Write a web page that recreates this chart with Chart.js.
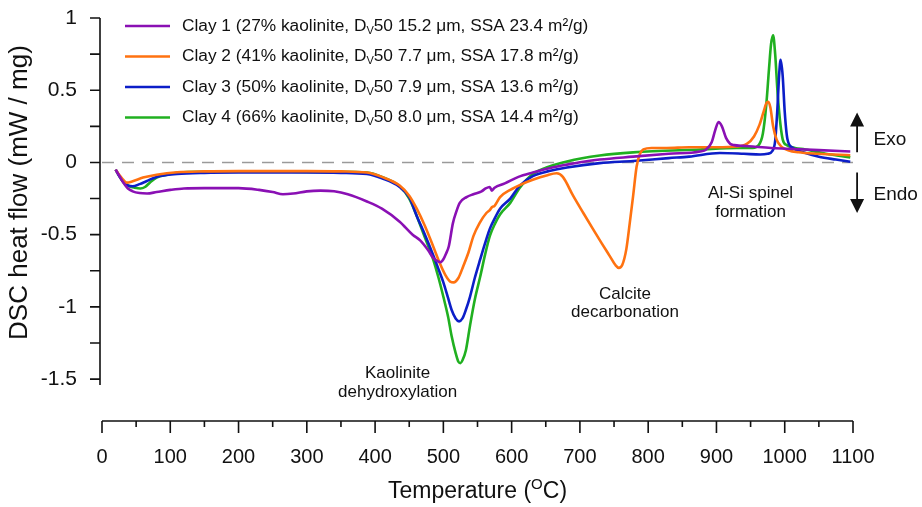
<!DOCTYPE html>
<html>
<head>
<meta charset="utf-8">
<script src="https://cdn.jsdelivr.net/npm/chart.js@4.4.1/dist/chart.umd.min.js"></script>
<style>
  html, body { margin: 0; padding: 0; background: #fff; }
</style>
</head>
<body>
<canvas id="chart" width="922" height="507"></canvas>
<script>
const FONT = "'Liberation Sans', Arial, sans-serif";

// Clay 1 (purple)
const clay1Temp = [20, 25, 30, 38, 45, 55, 66, 80, 100, 120, 150, 200, 230, 250, 265, 280, 300, 320, 340, 360, 388, 410, 436, 455, 466, 478, 485, 492, 496, 500, 504, 508, 514, 519, 524, 534, 544, 556, 562, 568, 571, 575, 590, 610, 631, 655, 681, 705, 729, 778, 830, 876, 885, 893, 898, 903, 908, 914, 920, 926, 940, 953, 980, 1003, 1050, 1096];
const clay1Flow = [-0.05, -0.09, -0.13, -0.18, -0.2, -0.212, -0.215, -0.205, -0.19, -0.18, -0.178, -0.178, -0.19, -0.205, -0.22, -0.215, -0.2, -0.195, -0.2, -0.22, -0.27, -0.32, -0.41, -0.5, -0.54, -0.61, -0.66, -0.685, -0.69, -0.67, -0.63, -0.58, -0.42, -0.34, -0.28, -0.24, -0.22, -0.2, -0.18, -0.17, -0.195, -0.175, -0.145, -0.1, -0.07, -0.04, -0.015, 0.005, 0.02, 0.04, 0.06, 0.076, 0.09, 0.14, 0.22, 0.28, 0.25, 0.17, 0.13, 0.12, 0.115, 0.11, 0.1, 0.095, 0.085, 0.076];

// Clay 2 (orange)
const clay2Temp = [20, 26, 32, 36, 45, 60, 80, 110, 150, 200, 250, 300, 350, 388, 410, 436, 450, 461, 473, 485, 495, 503, 510, 515, 522, 529, 537, 544, 553, 563, 568, 571, 575, 583, 598, 615, 631, 651, 666, 675, 690, 705, 719, 732, 744, 752, 757, 762, 768, 773, 778, 783, 788, 793, 805, 827, 860, 900, 930, 945, 955, 963, 969, 973, 976, 979, 983, 988, 995, 1005, 1020, 1050, 1096];
const clay2Flow = [-0.05, -0.09, -0.125, -0.14, -0.13, -0.105, -0.085, -0.068, -0.062, -0.06, -0.06, -0.06, -0.062, -0.07, -0.1, -0.16, -0.23, -0.32, -0.44, -0.58, -0.7, -0.78, -0.825, -0.83, -0.8, -0.72, -0.62, -0.51, -0.42, -0.35, -0.33, -0.31, -0.3, -0.24, -0.19, -0.15, -0.12, -0.09, -0.075, -0.1, -0.23, -0.35, -0.46, -0.56, -0.65, -0.71, -0.73, -0.71, -0.6, -0.42, -0.23, -0.03, 0.06, 0.09, 0.1, 0.1, 0.105, 0.105, 0.11, 0.13, 0.18, 0.26, 0.35, 0.41, 0.42, 0.38, 0.25, 0.16, 0.11, 0.085, 0.07, 0.06, 0.05];

// Clay 3 (blue)
const clay3Temp = [20, 26, 32, 38, 45, 55, 65, 80, 110, 150, 200, 250, 300, 350, 388, 410, 436, 450, 461, 473, 485, 493, 500, 507, 512, 518, 523, 528, 533, 539, 546, 554, 561, 568, 576, 583, 598, 612, 631, 655, 681, 729, 778, 830, 860, 905, 940, 964, 975, 982, 986, 989, 992, 994, 997, 1000, 1004, 1012, 1027, 1050, 1075, 1096];
const clay3Flow = [-0.05, -0.1, -0.14, -0.16, -0.165, -0.15, -0.13, -0.1, -0.08, -0.072, -0.07, -0.07, -0.07, -0.072, -0.08, -0.11, -0.17, -0.24, -0.37, -0.5, -0.64, -0.74, -0.83, -0.94, -1.02, -1.08, -1.1, -1.08, -1.02, -0.93, -0.8, -0.67, -0.56, -0.46, -0.38, -0.32, -0.25, -0.16, -0.095, -0.06, -0.035, -0.005, 0.01, 0.03, 0.04, 0.065, 0.06, 0.055, 0.06, 0.08, 0.15, 0.35, 0.62, 0.71, 0.6, 0.35, 0.16, 0.1, 0.07, 0.04, 0.02, 0.005];

// Clay 4 (green)
const clay4Temp = [20, 26, 32, 40, 48, 56, 63, 70, 80, 95, 114, 150, 200, 250, 300, 350, 388, 410, 436, 450, 461, 473, 485, 493, 500, 507, 512, 518, 522, 525, 528, 533, 539, 546, 554, 561, 568, 576, 583, 598, 612, 631, 651, 681, 729, 778, 876, 930, 953, 962, 968, 973, 977, 980, 983, 986, 990, 997, 1003, 1015, 1030, 1060, 1096];
const clay4Flow = [-0.05, -0.1, -0.14, -0.165, -0.175, -0.18, -0.17, -0.14, -0.105, -0.085, -0.07, -0.065, -0.063, -0.063, -0.065, -0.065, -0.07, -0.1, -0.165, -0.25, -0.37, -0.52, -0.67, -0.8, -0.93, -1.07, -1.2, -1.32, -1.38, -1.39, -1.37, -1.3, -1.13, -0.95, -0.79, -0.64, -0.51, -0.42, -0.36, -0.28, -0.175, -0.08, -0.035, 0.007, 0.048, 0.07, 0.09, 0.1, 0.1, 0.12, 0.2, 0.4, 0.65, 0.82, 0.88, 0.75, 0.45, 0.16, 0.12, 0.1, 0.09, 0.06, 0.035];

const seriesLabels = [
    'Clay 1 (27% kaolinite, D_V50 15.2 μm, SSA 23.4 m²/g)',
    'Clay 2 (41% kaolinite, D_V50 7.7 μm, SSA 17.8 m²/g)',
    'Clay 3 (50% kaolinite, D_V50 7.9 μm, SSA 13.6 m²/g)',
    'Clay 4 (66% kaolinite, D_V50 8.0 μm, SSA 14.4 m²/g)'
];
const seriesColors = ['#8a10b4', '#ff7210', '#0c1ec8', '#20b020'];

const xTicks = [0, 100, 200, 300, 400, 500, 600, 700, 800, 900, 1000, 1100];
const yTicks = [-1.5, -1, -0.5, 0, 0.5, 1];

// annotation texts, placed in data coordinates
const noteText = ['Kaolinite', 'dehydroxylation', 'Calcite', 'decarbonation', 'Al-Si spinel', 'formation'];
const noteTemp = [433, 433, 766, 766, 950, 950];
const noteFlow = [-1.458, -1.59, -0.91, -1.036, -0.217, -0.342];

function toPoints(temps, flows) {
    return temps.map((t, i) => ({ x: t, y: flows[i] }));
}

function drawLabel(ctx, text, x, y, size) {
    // "_V" marks a subscript V
    var parts = text.split('_V');
    ctx.font = `${size}px ${FONT}`;
    ctx.fillText(parts[0], x, y);
    x += ctx.measureText(parts[0]).width;
    ctx.font = `${Math.round(size * 0.65)}px ${FONT}`;
    ctx.fillText('V', x, y + size * 0.28);
    x += ctx.measureText('V').width;
    ctx.font = `${size}px ${FONT}`;
    ctx.fillText(parts[1], x, y);
}

const dscPlugin = {
    id: 'dscExtras',
    beforeDatasetsDraw(chart) {
        const ctx = chart.ctx, xs = chart.scales.x, ys = chart.scales.y;
        ctx.save();
        ctx.strokeStyle = '#9a9a9a';
        ctx.lineWidth = 1.6;
        ctx.setLineDash([12, 8]);
        ctx.beginPath();
        ctx.moveTo(xs.getPixelForValue(0), ys.getPixelForValue(0));
        ctx.lineTo(xs.getPixelForValue(1100), ys.getPixelForValue(0));
        ctx.stroke();
        ctx.restore();
    },
    afterDraw(chart) {
        const ctx = chart.ctx, xs = chart.scales.x, ys = chart.scales.y;
        const area = chart.chartArea;
        ctx.save();
        ctx.strokeStyle = '#111';
        ctx.fillStyle = '#111';
        ctx.lineWidth = 1.6;

        // y axis (stops just under -1.5)
        var ax = area.left - 2;
        ctx.beginPath();
        ctx.moveTo(ax, ys.getPixelForValue(1));
        ctx.lineTo(ax, ys.getPixelForValue(-1.54));
        for (var v = -1.5; v <= 1.0001; v += 0.25) {
            var py = ys.getPixelForValue(v);
            ctx.moveTo(ax - 10, py);
            ctx.lineTo(ax, py);
        }
        ctx.stroke();

        // x axis, detached at the bottom
        var by = area.bottom;
        ctx.beginPath();
        ctx.moveTo(xs.getPixelForValue(0), by);
        ctx.lineTo(xs.getPixelForValue(1100), by);
        for (var t = 0; t <= 1100; t += 50) {
            var px = xs.getPixelForValue(t);
            ctx.moveTo(px, by);
            ctx.lineTo(px, by + (t % 100 === 0 ? 12 : 6));
        }
        ctx.stroke();

        // axis titles
        ctx.textBaseline = 'middle';
        ctx.textAlign = 'center';
        ctx.save();
        ctx.translate(20, (ys.getPixelForValue(1) + ys.getPixelForValue(-1.5)) / 2 - 6);
        ctx.rotate(-Math.PI / 2);
        ctx.font = `26px ${FONT}`;
        ctx.fillText('DSC heat flow (mW / mg)', 0, 0);
        ctx.restore();

        ctx.font = `23px ${FONT}`;
        var pre = 'Temperature (', sup = 'O', post = 'C)';
        var w1 = ctx.measureText(pre).width, w3 = ctx.measureText(post).width;
        ctx.font = `15px ${FONT}`;
        var w2 = ctx.measureText(sup).width;
        var tx = (xs.getPixelForValue(0) + xs.getPixelForValue(1100)) / 2 - (w1 + w2 + w3) / 2;
        var ty = 492;
        ctx.textAlign = 'left';
        ctx.font = `23px ${FONT}`;
        ctx.fillText(pre, tx, ty);
        ctx.font = `15px ${FONT}`;
        ctx.fillText(sup, tx + w1, ty - 7);
        ctx.font = `23px ${FONT}`;
        ctx.fillText(post, tx + w1 + w2, ty);

        // annotations
        ctx.textAlign = 'center';
        ctx.font = `17px ${FONT}`;
        noteText.forEach((s, i) => {
            ctx.fillText(s, xs.getPixelForValue(noteTemp[i]), ys.getPixelForValue(noteFlow[i]));
        });

        // Exo / Endo arrows
        var arx = xs.getPixelForValue(1106);
        var upTip = ys.getPixelForValue(0.345), upBase = ys.getPixelForValue(0.07);
        var dnTip = ys.getPixelForValue(-0.35), dnBase = ys.getPixelForValue(-0.07);
        ctx.lineWidth = 1.8;
        ctx.beginPath();
        ctx.moveTo(arx, upBase); ctx.lineTo(arx, upTip + 12);
        ctx.moveTo(arx, dnBase); ctx.lineTo(arx, dnTip - 12);
        ctx.stroke();
        ctx.beginPath();
        ctx.moveTo(arx, upTip); ctx.lineTo(arx - 7, upTip + 14); ctx.lineTo(arx + 7, upTip + 14); ctx.closePath();
        ctx.moveTo(arx, dnTip); ctx.lineTo(arx - 7, dnTip - 14); ctx.lineTo(arx + 7, dnTip - 14); ctx.closePath();
        ctx.fill();
        ctx.textAlign = 'left';
        ctx.font = `19px ${FONT}`;
        ctx.fillText('Exo', xs.getPixelForValue(1130), ys.getPixelForValue(0.155));
        ctx.fillText('Endo', xs.getPixelForValue(1130), ys.getPixelForValue(-0.225));

        // legend
        chart.data.datasets.forEach((ds, i) => {
            var ly = ys.getPixelForValue(1) + 8 + i * 30.5;
            ctx.strokeStyle = ds.borderColor;
            ctx.lineWidth = 2.6;
            ctx.beginPath();
            ctx.moveTo(area.left + 23, ly);
            ctx.lineTo(area.left + 68, ly);
            ctx.stroke();
            ctx.fillStyle = '#111';
            ctx.textAlign = 'left';
            drawLabel(ctx, ds.label, area.left + 80, ly, 17.3);
        });
        ctx.restore();
    }
};

const temps = [clay1Temp, clay2Temp, clay3Temp, clay4Temp];
const flows = [clay1Flow, clay2Flow, clay3Flow, clay4Flow];

new Chart(document.getElementById('chart'), {
    type: 'line',
    data: {
        datasets: seriesLabels.map((label, i) => ({
            label: label,
            data: toPoints(temps[i], flows[i]),
            borderColor: seriesColors[i],
            borderWidth: 2.6,
            pointRadius: 0,
            fill: false,
            cubicInterpolationMode: 'monotone'
        }))
    },
    options: {
        responsive: false,
        animation: false,
        layout: { padding: { top: 18, right: 69, left: 0, bottom: 0 } },
        plugins: {
            legend: { display: false },
            tooltip: { enabled: false }
        },
        scales: {
            x: {
                type: 'linear',
                min: 0,
                max: 1100,
                // ticks are drawn by the plugin; tickLength only spaces the labels
                grid: { display: false, drawTicks: true, tickLength: 24 },
                border: { display: false },
                afterBuildTicks(scale) { scale.ticks = xTicks.map(v => ({ value: v })); },
                afterFit(scale) { scale.height = 86; },
                ticks: {
                    autoSkip: false,
                    maxRotation: 0,
                    padding: 0,
                    color: '#111',
                    font: { family: FONT, size: 20 },
                    callback: v => String(v)
                }
            },
            y: {
                min: -1.79,
                max: 1,
                grid: { display: false, drawTicks: true, tickLength: 25 },
                border: { display: false },
                afterBuildTicks(scale) { scale.ticks = yTicks.map(v => ({ value: v })); },
                afterFit(scale) { scale.width = 102; },
                ticks: {
                    padding: 0,
                    color: '#111',
                    font: { family: FONT, size: 21 },
                    callback: v => String(v)
                }
            }
        }
    },
    plugins: [dscPlugin]
});
</script>
</body>
</html>
